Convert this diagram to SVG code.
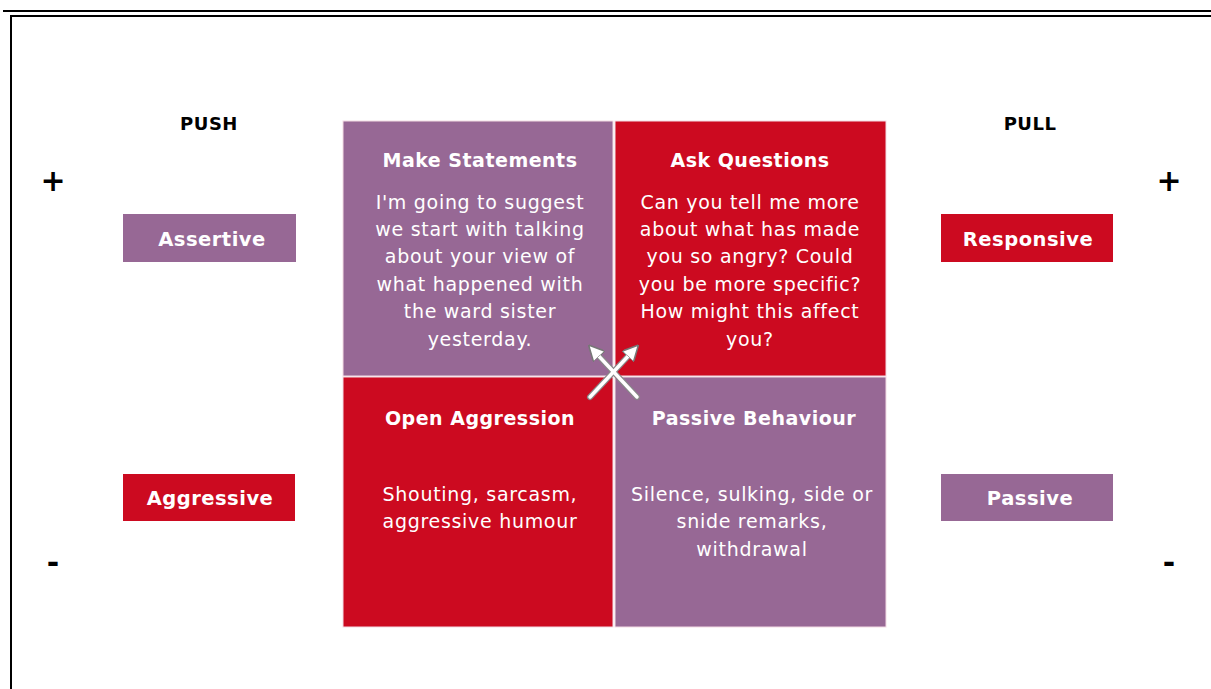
<svg xmlns="http://www.w3.org/2000/svg" width="1211" height="689" viewBox="0 0 1211 689">
  <style>
    .purple { fill: #976895; }
    .red { fill: #cc0a20; }
    .quad { stroke: #f3dbe4; stroke-width: 1; }
    .title { font-family: "DejaVu Sans", Verdana, sans-serif; font-weight: bold; font-size: 19px; letter-spacing: 0.5px; fill: #ffffff; text-anchor: middle; }
    .body { font-family: "DejaVu Sans", Verdana, sans-serif; font-size: 19px; letter-spacing: 0.7px; fill: #ffffff; text-anchor: middle; }
    .tag { font-family: "DejaVu Sans", Verdana, sans-serif; font-weight: bold; font-size: 19.5px; letter-spacing: 0.5px; fill: #ffffff; text-anchor: middle; }
    .head { font-family: "DejaVu Sans", Verdana, sans-serif; font-weight: bold; font-size: 18px; letter-spacing: 0.5px; fill: #000000; text-anchor: middle; }
    .sign { font-family: "DejaVu Sans", Verdana, sans-serif; font-weight: bold; font-size: 30px; fill: #000000; text-anchor: middle; }
  </style>
  <defs>
    <marker id="tip" viewBox="0 0 10 10" refX="4" refY="5" markerWidth="4.5" markerHeight="4.5" orient="auto" markerUnits="strokeWidth">
      <path d="M0,0 L10,5 L0,10 z" fill="#ffffff" stroke="#777777" stroke-width="1"/>
    </marker>
  </defs>

  <rect width="1211" height="689" fill="#ffffff"/>

  <!-- page frame -->
  <g id="frame" fill="none" stroke="#000000" stroke-width="2">
    <line x1="3" y1="11" x2="1211" y2="11"/>
    <polyline points="11,689 11,16 1211,16"/>
  </g>

  <!-- column headings -->
  <g id="push">
    <text class="head" x="209" y="130">PUSH</text>
  </g>
  <g id="pull">
    <text class="head" x="1030" y="130">PULL</text>
  </g>

  <!-- polarity signs -->
  <g id="signs">
    <text class="sign" x="53" y="191">+</text>
    <text class="sign" x="1169" y="191">+</text>
    <text class="sign" x="53" y="573">-</text>
    <text class="sign" x="1169" y="573">-</text>
  </g>

  <!-- side labels -->
  <g id="assertive">
    <rect class="purple" x="123" y="214" width="173" height="48"/>
    <text class="tag" x="212" y="246">Assertive</text>
  </g>
  <g id="responsive">
    <rect class="red" x="941" y="214" width="172" height="48"/>
    <text class="tag" x="1028" y="246">Responsive</text>
  </g>
  <g id="aggressive">
    <rect class="red" x="123" y="474" width="172" height="47"/>
    <text class="tag" x="210" y="505">Aggressive</text>
  </g>
  <g id="passive">
    <rect class="purple" x="941" y="474" width="172" height="47"/>
    <text class="tag" x="1030" y="505">Passive</text>
  </g>

  <!-- quadrants -->
  <g id="make-statements">
    <rect class="purple quad" x="343" y="121" width="270" height="255"/>
    <text class="title" x="480" y="167">Make Statements</text>
    <text class="body" x="480" y="209">I'm going to suggest</text>
    <text class="body" x="480" y="236">we start with talking</text>
    <text class="body" x="480" y="263">about your view of</text>
    <text class="body" x="480" y="291">what happened with</text>
    <text class="body" x="480" y="318">the ward sister</text>
    <text class="body" x="480" y="346">yesterday.</text>
  </g>
  <g id="ask-questions">
    <rect class="red quad" x="615" y="121" width="271" height="255"/>
    <text class="title" x="750" y="167">Ask Questions</text>
    <text class="body" x="750" y="209">Can you tell me more</text>
    <text class="body" x="750" y="236">about what has made</text>
    <text class="body" x="750" y="263">you so angry? Could</text>
    <text class="body" x="750" y="291">you be more specific?</text>
    <text class="body" x="750" y="318">How might this affect</text>
    <text class="body" x="750" y="346">you?</text>
  </g>
  <g id="open-aggression">
    <rect class="red quad" x="343" y="377" width="270" height="250"/>
    <text class="title" x="480" y="425">Open Aggression</text>
    <text class="body" x="480" y="501">Shouting, sarcasm,</text>
    <text class="body" x="480" y="528">aggressive humour</text>
  </g>
  <g id="passive-behaviour">
    <rect class="purple quad" x="615" y="377" width="271" height="250"/>
    <text class="title" x="754" y="425">Passive Behaviour</text>
    <text class="body" x="752" y="501">Silence, sulking, side or</text>
    <text class="body" x="752" y="528">snide remarks,</text>
    <text class="body" x="752" y="556">withdrawal</text>
  </g>

  <!-- crossing arrows at the centre -->
  <g id="connectors" stroke-linecap="round">
    <line x1="590" y1="397" x2="632" y2="352" stroke="#888888" stroke-width="6"/>
    <line x1="637" y1="397" x2="595" y2="352" stroke="#888888" stroke-width="6"/>
    <line x1="590" y1="397" x2="632" y2="352" stroke="#ffffff" stroke-width="3.5" marker-end="url(#tip)"/>
    <line x1="637" y1="397" x2="595" y2="352" stroke="#ffffff" stroke-width="3.5" marker-end="url(#tip)"/>
  </g>
</svg>
